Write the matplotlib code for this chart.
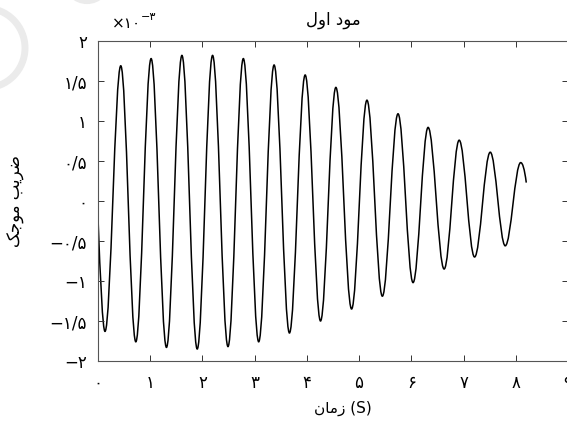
import matplotlib
matplotlib.use("Agg")
import matplotlib.pyplot as plt
from matplotlib.path import Path
from matplotlib.patches import PathPatch, Circle

# extrema (time in s, coefficient in units of 1e-3)
peak_t = [0.436, 1.017, 1.607, 2.194, 2.783, 3.372, 3.967, 4.555, 5.150, 5.745, 6.321, 6.916, 7.511, 8.094]
peak_v = [1.69, 1.78, 1.82, 1.82, 1.78, 1.70, 1.575, 1.42, 1.26, 1.09, 0.92, 0.76, 0.61, 0.48]
trough_t = [0.134, 0.724, 1.311, 1.900, 2.489, 3.077, 3.666, 4.261, 4.856, 5.445, 6.033, 6.628, 7.211, 7.798]
trough_v = [-1.63, -1.76, -1.83, -1.85, -1.82, -1.76, -1.65, -1.50, -1.35, -1.19, -1.02, -0.85, -0.70, -0.56]
start_t, start_v, start_slope = 0.0, -0.21, -17.0
end_t, end_v, end_slope = 8.201, 0.23, -5.0

xticks = [0, 1, 2, 3, 4, 5, 6, 7, 8, 9]
yticks = [-2, -1.5, -1, -0.5, 0, 0.5, 1, 1.5, 2]

fa_digits = str.maketrans("0123456789.-", "۰۱۲۳۴۵۶۷۸۹/−")


def fa(v):
    s = ("%g" % v)
    return s.translate(fa_digits)


# shaped glyphs written in visual (left to right) order
title_txt = "\uFEDD\uFEED\uFE8D \uFEA9\uFEEE\uFEE3"          # مود اول
xlabel_txt = "\uFEE5\uFE8E\uFEE3\uFEAF (S)"                 # زمان (S)
ylabel_txt = "\uFB8F\uFE9F\uFEEE\uFEE3 \uFE90\uFBFE\uFEAE\uFEBF"  # ضریب موجک

# build the curve from the extrema, one bezier per half swing
pts = [(start_t, start_v, start_slope)]
ext = sorted(list(zip(peak_t, peak_v)) + list(zip(trough_t, trough_v)))
pts += [(t, v, 0.0) for t, v in ext]
pts.append((end_t, end_v, end_slope))

verts = [(pts[0][0], pts[0][1])]
codes = [Path.MOVETO]
for (t0, v0, s0), (t1, v1, s1) in zip(pts[:-1], pts[1:]):
    dt = t1 - t0
    a = 0.364 if (s0 == 0 and s1 == 0) else 1 / 3
    verts += [(t0 + a * dt, v0 + s0 * a * dt), (t1 - a * dt, v1 - s1 * a * dt), (t1, v1)]
    codes += [Path.CURVE4] * 3

fig = plt.figure(figsize=(5.67, 4.21), dpi=100)
W, H = 567, 421
ax = fig.add_axes([98 / W, 60 / H, 470 / W, 320 / H])

ax.add_patch(PathPatch(Path(verts, codes), facecolor="none", edgecolor="black",
                       lw=1.1, transform=ax.transData))
ax.set_xlim(0, 9)
ax.set_ylim(-2, 2)

ax.set_xticks(xticks)
ax.set_xticklabels([fa(v) for v in xticks])
ax.set_yticks(yticks)
ax.set_yticklabels([fa(v) for v in yticks])
ax.tick_params(direction="in", length=4, width=0.7, color="#333333",
               top=True, right=True, labelsize=12)
ax.tick_params(axis="x", pad=9)
ax.tick_params(axis="y", pad=8)
for sp in ax.spines.values():
    sp.set_color("#555555")
    sp.set_linewidth(0.8)

ax.set_title(title_txt, fontsize=12, pad=12)
ax.set_xlabel(xlabel_txt, fontsize=11)
ax.set_ylabel(ylabel_txt, fontsize=12)
ax.yaxis.set_label_coords(-73 / 470, 0.5)
ax.xaxis.set_label_coords(0.52, -40 / 320)

# exponent marker above the y axis
fig.text(112 / W, 1 - 24 / H, "×۱۰", fontsize=11, va="center", ha="left")
fig.text(141 / W, 1 - 17 / H, "−۳", fontsize=8, va="center", ha="left")

# faint watermark arcs in the corner
fig.patches.append(Circle((-15, H - 48), 40, fill=False, edgecolor="#ebebeb",
                          lw=5, transform=None, zorder=-1))
fig.patches.append(Circle((87, H + 20), 22, fill=False, edgecolor="#ebebeb",
                          lw=3, transform=None, zorder=-1))

fig.savefig("out.png", dpi=100)
